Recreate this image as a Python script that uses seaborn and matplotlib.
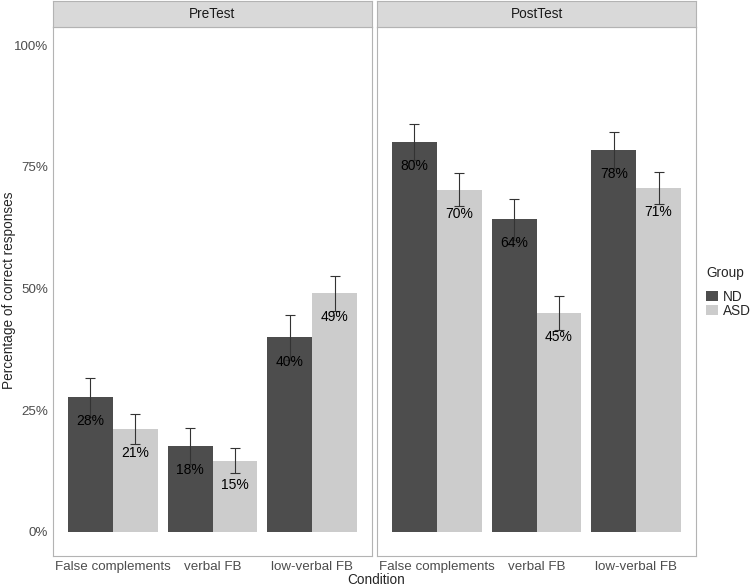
import pandas as pd
import seaborn as sns
import matplotlib.pyplot as plt
from matplotlib.patches import Patch

# === data ===
tests = ["PreTest", "PostTest"]
conditions = ["False complements", "verbal FB", "low-verbal FB"]
groups = ["ND", "ASD"]

pre_nd = [27.6, 17.6, 39.9]
pre_asd = [21.1, 14.6, 49.0]
post_nd = [80.0, 64.2, 78.4]
post_asd = [70.3, 45.0, 70.7]

pre_nd_se = [4.0, 3.6, 4.6]
pre_asd_se = [3.0, 2.6, 3.6]
post_nd_se = [3.7, 4.2, 3.7]
post_asd_se = [3.3, 3.5, 3.3]

colors = {"ND": "#4d4d4d", "ASD": "#cccccc"}

rows = []
for test, nd, asd, nd_se, asd_se in [
    ("PreTest", pre_nd, pre_asd, pre_nd_se, pre_asd_se),
    ("PostTest", post_nd, post_asd, post_nd_se, post_asd_se),
]:
    for i, cond in enumerate(conditions):
        rows.append((test, cond, "ND", nd[i], nd_se[i]))
        rows.append((test, cond, "ASD", asd[i], asd_se[i]))
df = pd.DataFrame(rows, columns=["Test", "Condition", "Group", "pct", "se"])

sns.set_style("white")
plt.rcParams["font.family"] = ["Liberation Sans", "DejaVu Sans"]

W, H = 752, 586
fig = plt.figure(figsize=(W / 100, H / 100), dpi=100)

panels = [(53, 372), (377, 696)]
top, bottom = 27, 556
strip_top = 1

for (x0, x1), test in zip(panels, tests):
    ax = fig.add_axes([x0 / W, 1 - bottom / H, (x1 - x0) / W, (bottom - top) / H])
    sub = df[df["Test"] == test]
    sns.barplot(data=sub, x="Condition", y="pct", hue="Group", order=conditions,
                hue_order=groups, palette=colors, width=0.9, gap=0,
                errorbar=None, saturation=1, linewidth=0, edgecolor="none",
                ax=ax, legend=False)
    for cont, g in zip(ax.containers, groups):
        vals = sub[sub["Group"] == g].set_index("Condition").loc[conditions]
        for bar, (_, r) in zip(cont, vals.iterrows()):
            xc = bar.get_x() + bar.get_width() / 2
            ax.errorbar(xc, r["pct"], yerr=r["se"], color="#333333", lw=0.8,
                        capsize=3.4, capthick=0.8, zorder=3)
            ax.annotate(f"{round(r['pct'])}%", (xc, r["pct"]), xytext=(0, -17.3),
                        textcoords="offset points", ha="center", va="center",
                        fontsize=10, color="black", zorder=4)
    ax.set_xlim(-0.6, 2.6)
    ax.set_ylim(-5, 103.7)
    ax.set_xlabel("")
    ax.set_ylabel("")
    ax.set_yticks([0, 25, 50, 75, 100])
    first = x0 == panels[0][0]
    if first:
        ax.set_yticklabels(["0%", "25%", "50%", "75%", "100%"])
    else:
        ax.set_yticklabels([])
    ax.tick_params(axis="both", colors="#b3b3b3", labelcolor="#4d4d4d",
                   labelsize=9.6, length=2.5, width=0.6, pad=1)
    if not first:
        ax.tick_params(axis="y", length=0)
    for s in ax.spines.values():
        s.set_color("#b3b3b3")
        s.set_linewidth(0.8)
    ax.grid(False)

    # facet strip
    sax = fig.add_axes([x0 / W, 1 - top / H, (x1 - x0) / W, (top - strip_top) / H])
    sax.set_facecolor("#d9d9d9")
    sax.set_xticks([])
    sax.set_yticks([])
    for s in sax.spines.values():
        s.set_color("#b3b3b3")
        s.set_linewidth(0.8)
    sax.text(0.5, 0.5, test, ha="center", va="center", fontsize=9.8,
             color="#1a1a1a", transform=sax.transAxes)

fig.text(376 / W, 1 - 580.5 / H, "Condition", ha="center", va="center", fontsize=9.8)
fig.text(9 / W, 1 - 290 / H, "Percentage of correct responses", ha="center",
         va="center", rotation=90, fontsize=9.8)

handles = [Patch(facecolor=colors[g], edgecolor="none") for g in groups]
fig.legend(handles, groups, title="Group", loc="upper left",
           bbox_to_anchor=(706 / W, 1 - 266 / H), frameon=False, fontsize=9.8,
           title_fontsize=9.8, handlelength=0.85, handleheight=0.85,
           handletextpad=0.37, labelspacing=0.0, borderpad=0,
           borderaxespad=0, alignment="left")
leg = fig.legends[0]
leg._legend_box.sep = 7

fig.savefig("out.png", dpi=100)
